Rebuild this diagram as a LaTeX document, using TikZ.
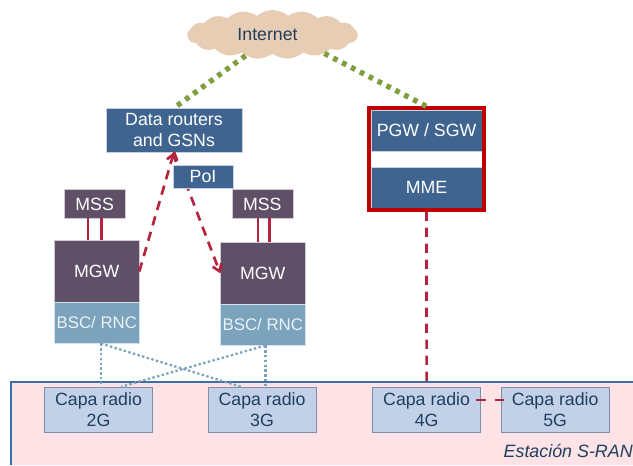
\documentclass[tikz,border=0pt]{standalone}
\usepackage{fontspec}
\setmainfont{Liberation Sans}
\usetikzlibrary{positioning,calc,arrows.meta,shapes.symbols,fit}
\definecolor{routerblue}{HTML}{3F6490}
\definecolor{mgwgray}{HTML}{5F5068}
\definecolor{bscblue}{HTML}{7BA3BC}
\definecolor{capablue}{HTML}{C3D1E8}
\definecolor{capaedge}{HTML}{7F8FA8}
\definecolor{darktext}{HTML}{1F3F5F}
\definecolor{linkred}{HTML}{B5243C}
\definecolor{corered}{HTML}{C00000}
\definecolor{webgreen}{HTML}{7F9F3F}
\definecolor{bandpink}{HTML}{FDE3E6}
\definecolor{bandblue}{HTML}{3B6EA5}
\definecolor{cloudtan}{HTML}{E8CDB5}

\begin{document}
\begin{tikzpicture}[
    font=\fontsize{13.3pt}{15.8pt}\selectfont,
    box/.style={rectangle, inner sep=0pt, outer sep=0pt, align=center, text=white, draw=white!70!#1, line width=0.4pt, fill=#1},
    router/.style={box=routerblue, minimum width=#1},
    router/.default={102pt},
    mss/.style={box=mgwgray, minimum width=45.75pt, minimum height=21.75pt},
    mgw/.style={box=mgwgray, minimum width=63.75pt, minimum height=46.5pt},
    bsc/.style={box=bscblue, minimum width=63.75pt, minimum height=30.75pt, text=white!85!bscblue, font=\fontsize{12.6pt}{15pt}\selectfont},
    gw/.style={box=routerblue, minimum width=83.25pt, minimum height=30.75pt},
    capa/.style={rectangle, inner sep=0pt, align=center, text=darktext, draw=capaedge, fill=capablue, minimum width=81pt, minimum height=33.75pt},
    reddash/.style={draw=linkred, line width=2pt, dash pattern=on 7pt off 5pt},
    redlink/.style={draw=linkred, line width=2pt},
    greendot/.style={draw=webgreen, line width=4pt, dash pattern=on 3.5pt off 4pt},
    bluedot/.style={draw=bscblue, line width=1.7pt, dash pattern=on 1.8pt off 1.8pt},
    ]
    \useasboundingbox (0,0) rectangle (474.75pt,-348.75pt);

    %% S-RAN band
    \node[rectangle, fill=bandpink, inner sep=0pt, outer sep=0pt, minimum width=466.5pt, minimum height=62.25pt, anchor=north west] (band) at (8.25pt,-286.5pt) {};
    \draw[bandblue, line width=1pt] (band.south west) |- (band.north east);
    \node[above left=5pt and 0pt of band.south east, inner sep=0pt, text=darktext, font=\fontsize{13.4pt}{15.6pt}\selectfont\itshape] (sran) {Estación S-RAN};

    %% radio layers
    \node[capa] (capa2) at (73.9pt,-307.1pt) {Capa radio\\2G};
    \node[capa, right=41.25pt of capa2] (capa3) {Capa radio\\3G};
    \node[capa, right=42pt of capa3] (capa4) {Capa radio\\4G};
    \node[capa, right=15pt of capa4] (capa5) {Capa radio\\5G};

    %% core nodes
    \node[cloud, cloud puffs=17, cloud puff arc=80, cloud ignores aspect, fill=cloudtan, text=darktext, inner sep=0pt, minimum width=128pt, minimum height=36.75pt] (web) at (204.4pt,-25.9pt) {\hspace*{-7.5pt}Internet};
    \node[router, minimum height=33pt] (data) at (130.5pt,-97.5pt) {Data routers\\and GSNs};

    \node[mgw] (mgw_l) at (72.6pt,-203.6pt) {MGW};
    \node[bsc, below=0pt of mgw_l] (bsc_l) {BSC/ RNC};
    \node[mss, above=16.5pt of mgw_l, xshift=-1.6pt] (mss_l) {MSS};

    \node[mgw, right=60.75pt of mgw_l, yshift=-1.5pt] (mgw_r) {MGW};
    \node[bsc, below=0pt of mgw_r] (bsc_r) {BSC/ RNC};
    \node[mss, above=18pt of mgw_r, xshift=-0.4pt] (mss_r) {MSS};

    \node[gw] (pgw) at (319.9pt,-97.9pt) {PGW / SGW};
    \node[gw, below=12pt of pgw] (mme) {MME};
    \node[fit=(pgw)(mme), draw=corered, line width=3pt, inner sep=1.2pt] (core) {};

    %% internet links
    \draw[greendot] (web.218) to (data.north);
    \draw[greendot] (web.-20) to (core.north);

    %% dashed links to routers
    \draw[reddash, -{Straight Barb[length=5pt,width=7pt]}] (mgw_l.east) to (data.south);
    \draw[reddash, -{Straight Barb[length=5pt,width=7pt]}] (data.south) to (mgw_r.west);
    \node[router=45pt, minimum height=17.25pt, below=9.75pt of data.south, xshift=21.75pt] (pol) {PoI};

    %% msc links
    \draw[redlink] ([xshift=-4.9pt]mss_l.south) to ([xshift=-4.9pt]mss_l.south |- mgw_l.north);
    \draw[redlink] ([xshift=5pt]mss_l.south) to ([xshift=5pt]mss_l.south |- mgw_l.north);
    \draw[redlink] ([xshift=-3.2pt]mss_r.south) to ([xshift=-3.2pt]mss_r.south |- mgw_r.north);
    \draw[redlink] ([xshift=5.2pt]mss_r.south) to ([xshift=5.2pt]mss_r.south |- mgw_r.north);

    %% bsc to radio
    \draw[bluedot] ([xshift=3pt]bsc_l.south) to ([xshift=3pt]bsc_l.south |- capa2.north);
    \draw[bluedot] ([xshift=3pt]bsc_l.south) to ([xshift=-16pt]capa3.north);
    \draw[bluedot] ([xshift=2pt]bsc_r.south) to ([xshift=2pt]bsc_r.south |- capa3.north);
    \draw[bluedot] ([xshift=2pt]bsc_r.south) to ([xshift=17pt]capa2.north);

    %% lte links
    \draw[reddash] (core.south) to (capa4.north);
    \draw[redlink, dash pattern=on 7pt off 7pt] ([shift={(-3.5pt,7pt)}]capa4.east) to ([shift={(3.5pt,7pt)}]capa5.west);

\end{tikzpicture}
\end{document}
